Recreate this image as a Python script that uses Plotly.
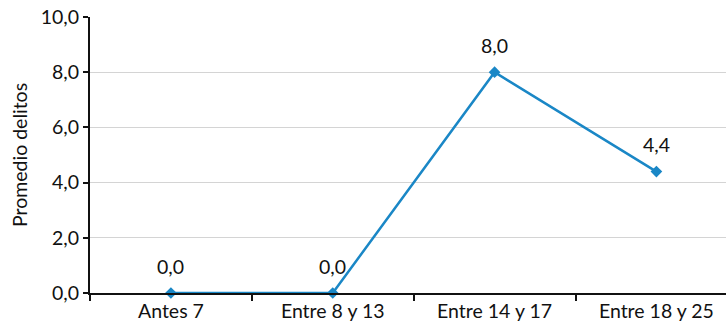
import plotly.graph_objects as go

categorias = ["Antes 7", "Entre 8 y 13", "Entre 14 y 17", "Entre 18 y 25"]
promedio = [0.0, 0.0, 8.0, 4.4]
y_ticks = [0, 2, 4, 6, 8, 10]

azul = "#1a87c6"
fuente = "Lato, 'Open Sans', sans-serif"
tam = 19.5

fig = go.Figure()
fig.add_trace(go.Scatter(
    x=categorias, y=promedio, mode="lines+markers",
    line=dict(color=azul, width=2.5),
    marker=dict(symbol="diamond", size=9, color=azul),
    cliponaxis=False, showlegend=False,
))

# value labels above each point
for c, v in zip(categorias, promedio):
    fig.add_annotation(
        x=c, y=v, text=f"{v:.1f}".replace(".", ","), showarrow=False,
        yshift=27, yanchor="middle", font=dict(size=tam, color="#111", family=fuente),
    )

fig.update_layout(
    width=726, height=331,
    margin=dict(l=90, r=0, t=17, b=38),
    paper_bgcolor="white", plot_bgcolor="white",
    separators=",.",
    font=dict(family=fuente, size=tam, color="#111"),
    xaxis=dict(
        type="category", range=[-0.5, 3.43], tickson="boundaries",
        ticks="outside", ticklen=6, tickcolor="#111", tickwidth=1.5,
        showline=True, linecolor="#111", linewidth=2,
        showgrid=False, zeroline=False,
        tickfont=dict(size=tam),
    ),
    yaxis=dict(
        range=[0, 10], tickvals=y_ticks, tickformat=".1f",
        ticks="outside", ticklen=5, tickcolor="#111", tickwidth=1.5,
        showline=True, linecolor="#111", linewidth=2,
        showgrid=True, gridcolor="#d4d4d4", gridwidth=1,
        zeroline=False, tickfont=dict(size=tam),
        title=dict(text="Promedio delitos", font=dict(size=tam), standoff=8),
    ),
)

fig.write_html("out.html")
